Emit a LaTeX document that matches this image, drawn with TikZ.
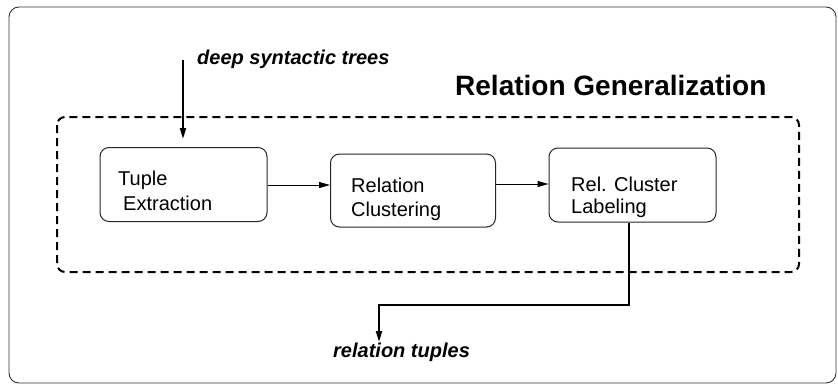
\documentclass[tikz,border=0pt]{standalone}
\usepackage{fontspec}
\setmainfont{Liberation Sans}
\usetikzlibrary{arrows.meta}
\begin{document}
\begin{tikzpicture}[x=1pt,y=-1pt,
  stage/.style={draw=black!85,line width=1pt,rounded corners=9pt,inner sep=0pt},
  stagetext/.style={anchor=base west,inner sep=0pt,font=\fontsize{20}{25}\selectfont},
  flowlabel/.style={anchor=base west,inner sep=0pt,font=\fontsize{20}{24}\selectfont\bfseries\itshape},
  thinarrow/.style={line width=1pt,-{Triangle[length=11pt,width=6pt]}},
  thickarrow/.style={line width=2pt,-{Triangle[length=11pt,width=6pt]}},
  groupbox/.style={draw=black,line width=2pt,dash pattern=on 8pt off 5pt,rounded corners=8pt}]
  \useasboundingbox (0,0) rectangle (838,386);
  % outer frame
  \draw[black!80,line width=0.9pt,rounded corners=10pt] (9,7) rectangle (836,383);
  % group boundary and its title
  \draw[groupbox] (57,117) rectangle (799,272);
  \node[anchor=base west,inner sep=0pt,font=\fontsize{28}{32}\selectfont\bfseries] (title) at (455,95) {Relation Generalization};
  % the three stages
  \node[stage,minimum width=167pt,minimum height=74pt] (tuple) at (183.5,184.5) {};
  \node[stage,minimum width=165pt,minimum height=73pt] (cluster) at (413,190.5) {};
  \node[stage,minimum width=167pt,minimum height=74pt] (label) at (632.5,185) {};
  \node[stagetext] (t1a) at (118,185) {Tuple};
  \node[stagetext] (t1b) at (123,210) {Extraction};
  \node[stagetext] (t2a) at (351,192) {Relation};
  \node[stagetext] (t2b) at (351,216) {Clustering};
  \node[stagetext] (t3a) at (571,191) {Rel. Cluster};
  \node[stagetext] (t3b) at (571,213) {Labeling};
  % input and output
  \node[flowlabel] (inlabel) at (197,64) {deep syntactic trees};
  \node[flowlabel] (outlabel) at (333,357) {relation tuples};
  \coordinate (instart) at (183,60);
  \coordinate (inend) at (183,139);
  \coordinate (outend) at (379,342);
  % connectors
  \draw[thickarrow] (instart) -- (inend);
  \draw[thinarrow] (tuple.east |- 0,185) -- (cluster.west |- 0,185);
  \draw[thinarrow] (cluster.east |- 0,184) -- (label.west |- 0,184);
  \draw[thickarrow] (label.south -| 629,0) -- (629,305) -- (379,305) -- (outend);
\end{tikzpicture}
\end{document}
